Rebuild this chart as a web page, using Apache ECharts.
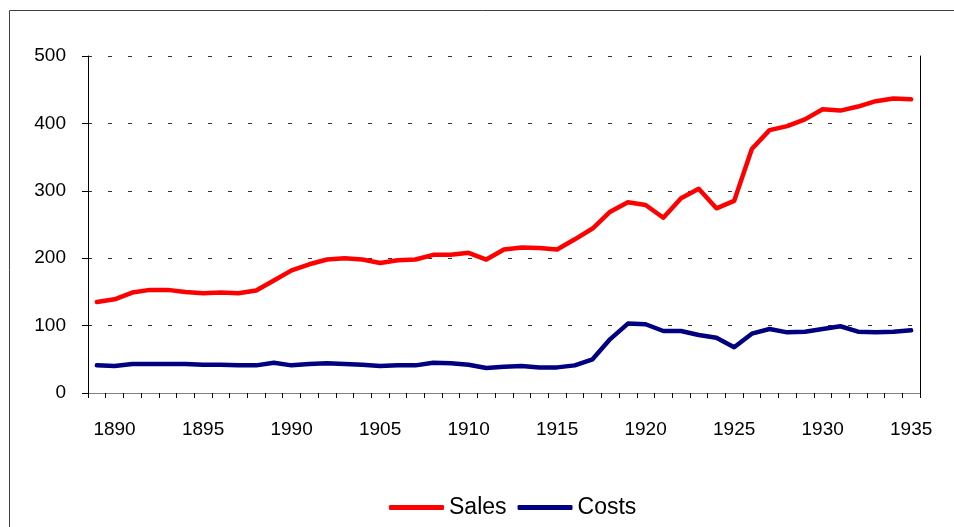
<!DOCTYPE html>
<html>
<head>
<meta charset="utf-8">
<script src="https://cdn.jsdelivr.net/npm/echarts@6/dist/echarts.min.js"></script>
<style>
  html, body { margin: 0; padding: 0; background: #fff; }
  #chart { width: 954px; height: 527px; }
</style>
</head>
<body>
<div id="chart"></div>
<script>
// categories: one per year
const years = ['1889', '1890', '1891', '1892', '1893', '1894', '1895', '1896', '1897', '1898',
  '1899', '1900', '1901', '1902', '1903', '1904', '1905', '1906', '1907', '1908',
  '1909', '1910', '1911', '1912', '1913', '1914', '1915', '1916', '1917', '1918',
  '1919', '1920', '1921', '1922', '1923', '1924', '1925', '1926', '1927', '1928',
  '1929', '1930', '1931', '1932', '1933', '1934', '1935'];

const sales = [135, 139, 149, 153, 153, 150, 148, 149, 148, 152,
  167, 182, 191, 198, 200, 198, 193, 197, 198, 205,
  205, 208, 198, 213, 216, 215, 213, 228, 244, 269,
  283, 279, 260, 289, 303, 274, 285, 362, 390, 396,
  406, 421, 419, 425, 433, 437, 436];

const costs = [41, 40, 43, 43, 43, 43, 42, 42, 41, 41,
  45, 41, 43, 44, 43, 42, 40, 41, 41, 45,
  44, 42, 37, 39, 40, 38, 38, 41, 50, 80,
  103, 102, 92, 92, 86, 82, 68, 88, 95, 90,
  91, 95, 99, 91, 90, 91, 93];

// labelled years and the text printed under them (the original shows "1990")
const tickYears = ['1890', '1895', '1900', '1905', '1910', '1915', '1920', '1925', '1930', '1935'];
const tickLabels = ['1890', '1895', '1990', '1905', '1910', '1915', '1920', '1925', '1930', '1935'];

const font = 'Liberation Sans, Arial, sans-serif';

const chart = echarts.init(document.getElementById('chart'), null, { renderer: 'canvas' });

chart.setOption({
  animation: false,
  backgroundColor: '#fff',
  // outer chart frame
  graphic: [{
    type: 'rect',
    shape: { x: 9.5, y: 10.5, width: 980, height: 560 },
    style: { fill: 'none', stroke: '#404040', lineWidth: 1 },
    silent: true,
  }],
  grid: { left: 88, right: 34, top: 56, bottom: 134 },
  legend: {
    bottom: 3,
    left: 384,
    icon: 'roundRect',
    itemWidth: 55,
    itemHeight: 5,
    itemGap: 11,
    textStyle: { fontFamily: font, fontSize: 23, color: '#000' },
    data: ['Sales', 'Costs'],
  },
  xAxis: [{
    type: 'category',
    data: years,
    boundaryGap: true,
    axisLine: { lineStyle: { color: '#000', width: 1 } },
    axisTick: { show: true, interval: 0, length: 5, lineStyle: { color: '#000', width: 1 } },
    axisLabel: {
      interval: (i, v) => tickYears.includes(v),
      formatter: (v) => tickLabels[tickYears.indexOf(v)],
      fontFamily: font,
      fontSize: 19,
      color: '#000',
      margin: 27,
    },
  }, {
    // top border of plot area
    type: 'category',
    data: years,
    position: 'top',
    axisLine: { show: true, lineStyle: { color: '#808080', width: 1 } },
    axisTick: { show: false },
    axisLabel: { show: false },
  }],
  yAxis: [{
    type: 'value',
    min: 0,
    max: 500,
    interval: 100,
    axisLine: { show: true, lineStyle: { color: '#000', width: 1 } },
    axisTick: { show: true, length: 6, lineStyle: { color: '#000' } },
    axisLabel: { fontFamily: font, fontSize: 19, color: '#000', margin: 22 },
    splitLine: { show: true, lineStyle: { color: '#333', type: [4, 16], width: 1 } },
  }, {
    // right border of plot area
    type: 'value',
    min: 0,
    max: 500,
    interval: 100,
    position: 'right',
    axisLine: { show: true, lineStyle: { color: '#000', width: 1 } },
    axisTick: { show: false },
    axisLabel: { show: false },
    splitLine: { show: false },
  }],
  series: [{
    name: 'Sales',
    type: 'line',
    data: sales,
    showSymbol: false,
    color: '#ff0000',
    lineStyle: { width: 4.5, color: '#ff0000', cap: 'round', join: 'round' },
  }, {
    name: 'Costs',
    type: 'line',
    data: costs,
    showSymbol: false,
    color: '#000080',
    lineStyle: { width: 4.5, color: '#000080', cap: 'round', join: 'round' },
  }],
});
</script>
</body>
</html>
